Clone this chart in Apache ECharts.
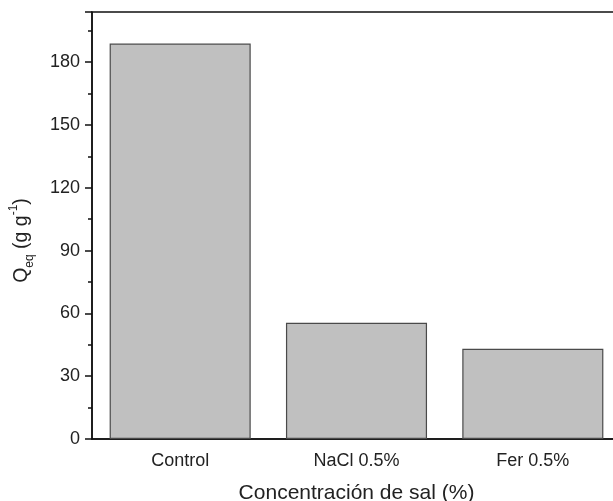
<!DOCTYPE html>
<html>
<head>
<meta charset="utf-8">
<script src="https://cdn.jsdelivr.net/npm/echarts@6/dist/echarts.min.js"></script>
<style>html,body{margin:0;padding:0;background:#fff}#c{width:613px;height:501px}</style>
</head>
<body>
<div id="c"></div>
<script>
const categories = ['Control', 'NaCl 0.5%', 'Fer 0.5%'];
const qeqValues = [188.9, 55.5, 43.1];
const yTickInterval = 30;
const yMax = 204;

const chart = echarts.init(document.getElementById('c'), null, {renderer: 'canvas'});
const font = 'Liberation Sans, Arial, sans-serif';
chart.setOption({
  animation: false,
  backgroundColor: '#fff',
  grid: {left: 92, top: 12, width: 529, height: 427, show: true, borderColor: '#111', borderWidth: 1.5, backgroundColor: 'transparent', outerBoundsMode: 'none', containLabel: false},
  xAxis: [{
    type: 'category',
    data: categories,
    axisLine: {lineStyle: {color: '#111', width: 1.5}},
    axisTick: {alignWithLabel: true, length: 7, lineStyle: {color: '#111', width: 1.5}},
    axisLabel: {color: '#222', fontSize: 18, fontFamily: font, margin: 13},
    name: 'Concentración de sal (%)',
    nameLocation: 'middle',
    nameGap: 44,
    nameTextStyle: {color: '#222', fontSize: 21, fontFamily: font}
  }, {
    type: 'category',
    data: categories,
    position: 'bottom',
    axisLine: {show: false},
    axisTick: {length: 4, lineStyle: {color: '#111', width: 1.5}},
    axisLabel: {show: false}
  }],
  yAxis: {
    type: 'value',
    min: 0,
    max: yMax,
    interval: yTickInterval,
    splitLine: {show: false},
    axisLine: {show: true, lineStyle: {color: '#111', width: 1.5}},
    axisTick: {show: true, length: 7, lineStyle: {color: '#111', width: 1.5}},
    minorTick: {show: true, splitNumber: 2, length: 4, lineStyle: {color: '#111', width: 1.5}},
    axisLabel: {color: '#222', fontSize: 18, fontFamily: font, margin: 12, showMaxLabel: false},
    name: '{n|Q}{sub|eq}{n| (g g}{sup|-1}{n|)}',
    nameLocation: 'middle',
    nameRotate: 90,
    nameGap: 56,
    nameTextStyle: {
      color: '#222', fontFamily: font,
      padding: [0, 30, 0, 0],
      rich: {
        n: {fontSize: 19.5, fontFamily: font, color: '#222', lineHeight: 28, verticalAlign: 'middle'},
        sub: {fontSize: 12, fontFamily: font, color: '#222', lineHeight: 28, verticalAlign: 'bottom'},
        sup: {fontSize: 12, fontFamily: font, color: '#222', lineHeight: 28, verticalAlign: 'top'}
      }
    }
  },
  series: [{
    type: 'bar',
    data: qeqValues,
    xAxisIndex: 0,
    barWidth: '80%',
    itemStyle: {color: '#c0c0c0', borderColor: '#4a4a4a', borderWidth: 1.2}
  }]
});
</script>
</body>
</html>
